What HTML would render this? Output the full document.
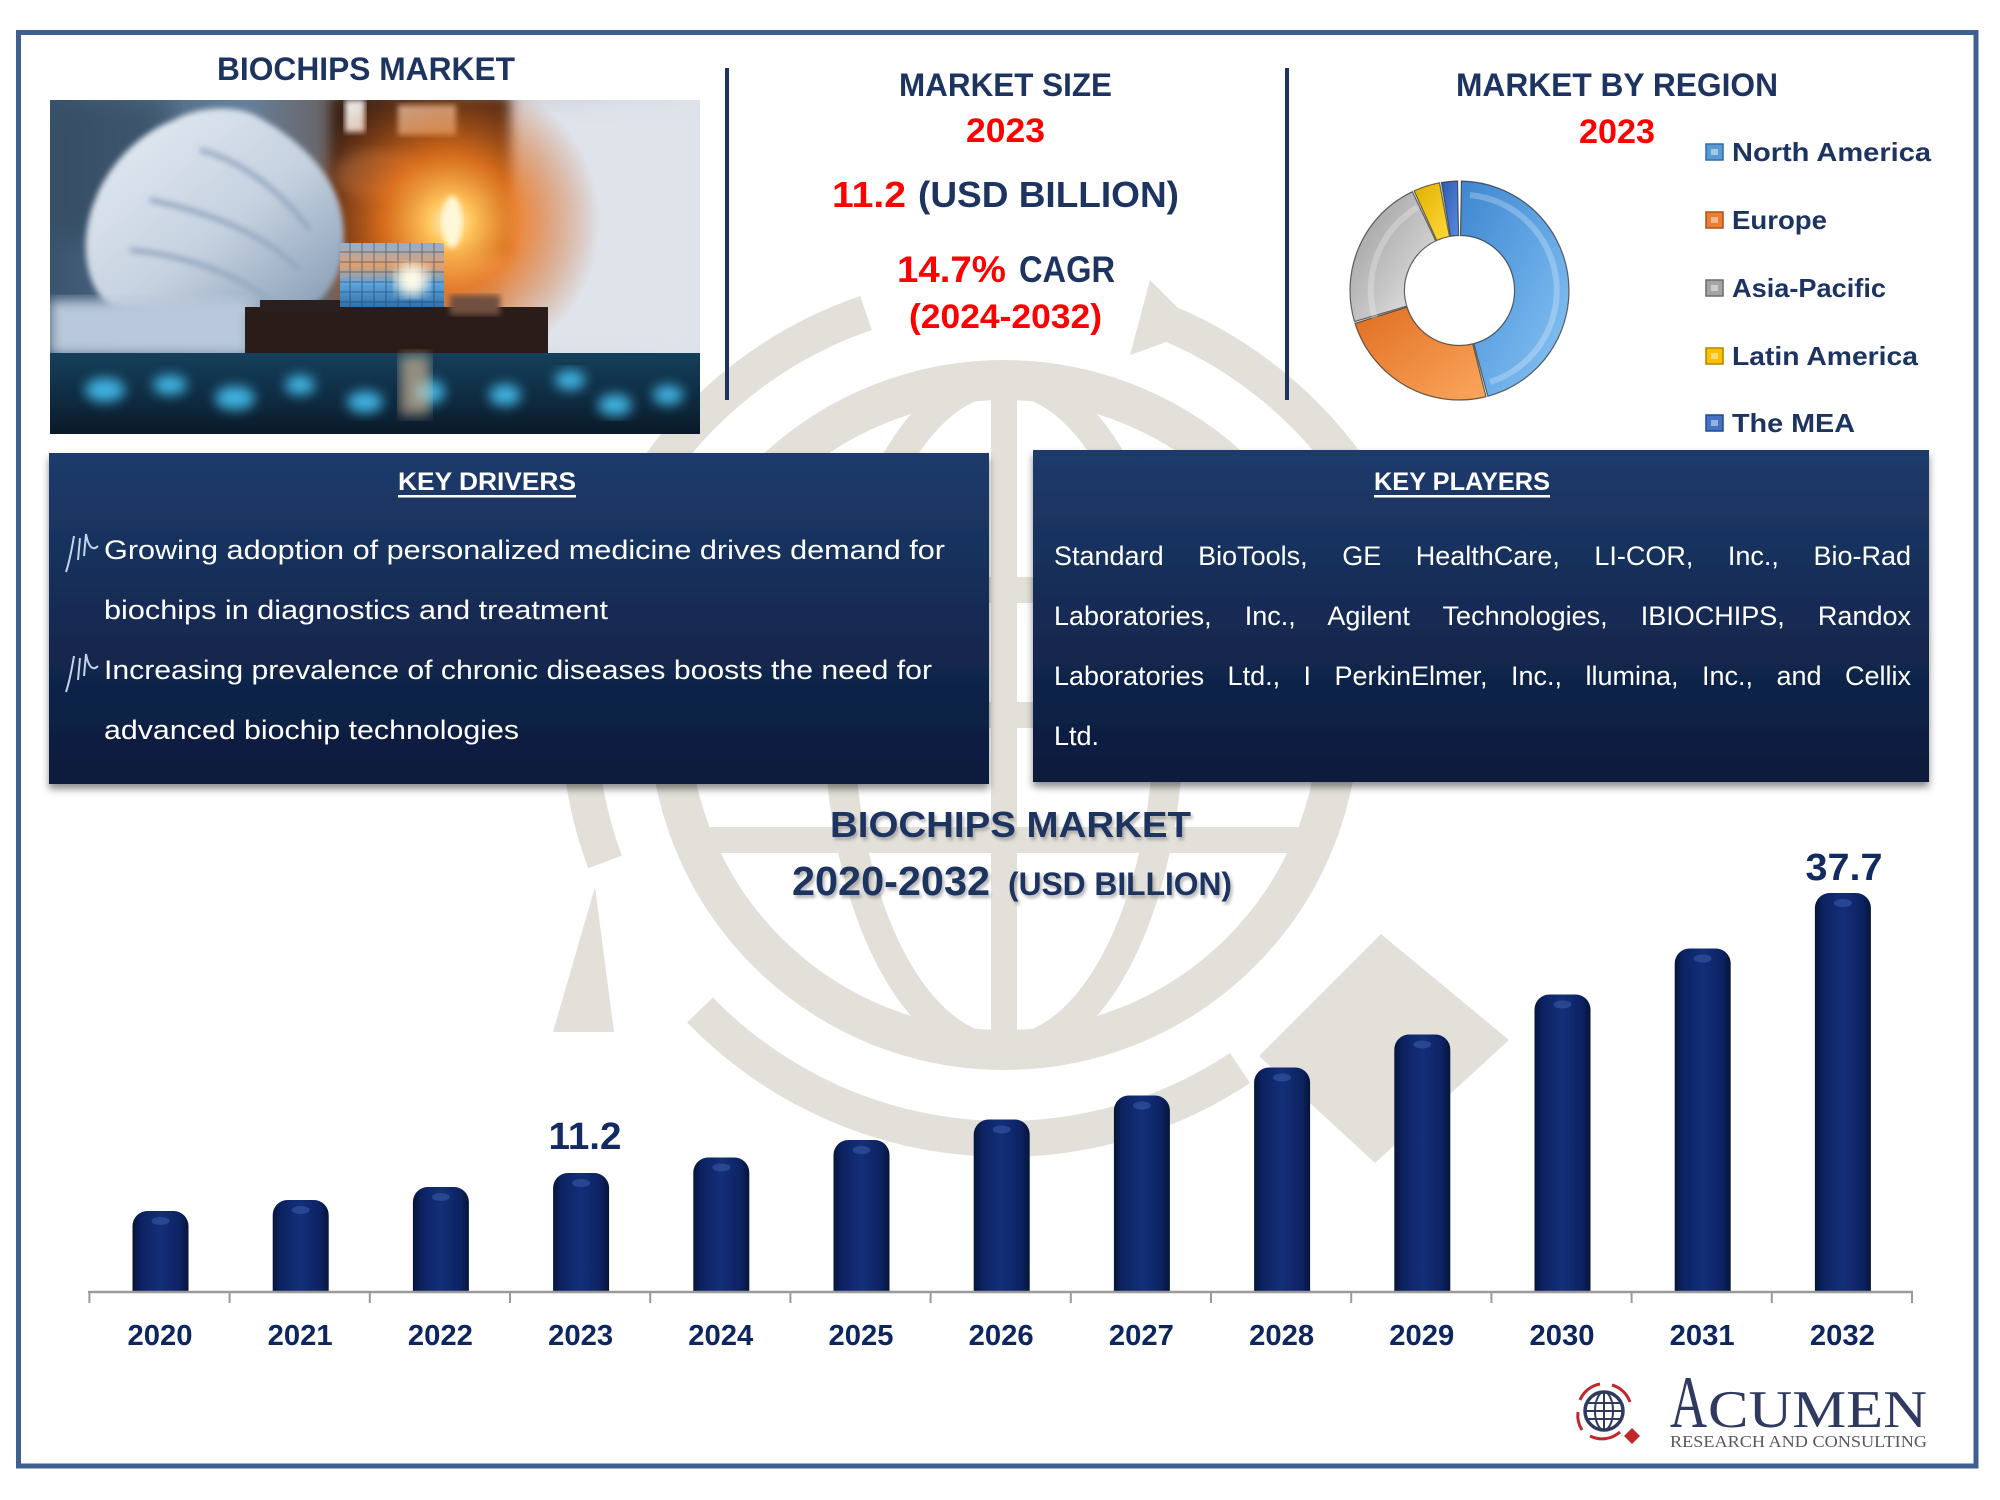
<!DOCTYPE html>
<html><head><meta charset="utf-8"><style>
html,body{margin:0;padding:0;background:#fff;}
#wrap{position:relative;width:2000px;height:1500px;overflow:hidden;background:#fff;font-family:"Liberation Sans",sans-serif;}
svg{position:absolute;left:0;top:0;}
.kp{position:absolute;left:1054px;width:857px;font-size:27px;line-height:27px;color:#fff;text-align:justify;text-align-last:justify;white-space:normal;font-family:"Liberation Sans",sans-serif;}
</style></head><body><div id="wrap">
<svg width="2000" height="1500" viewBox="0 0 2000 1500" xmlns="http://www.w3.org/2000/svg">
<defs>
<linearGradient id="box" x1="0" y1="0" x2="0" y2="1"><stop offset="0" stop-color="#1e3b6b"/><stop offset="1" stop-color="#0b1a3b"/></linearGradient>
<linearGradient id="bar" x1="0" y1="0" x2="1" y2="0"><stop offset="0" stop-color="#061538"/><stop offset="0.15" stop-color="#0c2262"/><stop offset="0.5" stop-color="#142f78"/><stop offset="0.85" stop-color="#0c2262"/><stop offset="1" stop-color="#061538"/></linearGradient>
<filter id="sh" x="-5%" y="-5%" width="110%" height="120%"><feDropShadow dx="0" dy="5" stdDeviation="4" flood-color="#000" flood-opacity="0.45"/></filter>
<filter id="b3"><feGaussianBlur stdDeviation="3"/></filter>
<filter id="b6"><feGaussianBlur stdDeviation="6"/></filter>
<filter id="b12"><feGaussianBlur stdDeviation="12"/></filter>
<filter id="tb"><feGaussianBlur stdDeviation="1.5"/></filter>
<linearGradient id="pbg" x1="0" y1="0" x2="1" y2="0"><stop offset="0" stop-color="#3a546e"/><stop offset="0.3" stop-color="#66809b"/><stop offset="0.5" stop-color="#6a5448"/><stop offset="0.72" stop-color="#c4c8d2"/><stop offset="1" stop-color="#dde2ea"/></linearGradient>
<linearGradient id="glv" x1="0" y1="0" x2="1" y2="1"><stop offset="0" stop-color="#e8eef5"/><stop offset="0.55" stop-color="#c6d2e0"/><stop offset="1" stop-color="#8399b3"/></linearGradient>
<radialGradient id="glow" cx="0.5" cy="0.5" r="0.5"><stop offset="0" stop-color="#fff6d0"/><stop offset="0.15" stop-color="#ffc45a"/><stop offset="0.45" stop-color="#f0781c" stop-opacity="0.85"/><stop offset="1" stop-color="#c05010" stop-opacity="0"/></radialGradient>
<linearGradient id="chip" x1="0" y1="0" x2="0" y2="1"><stop offset="0" stop-color="#8fb0d0"/><stop offset="0.3" stop-color="#e0a070"/><stop offset="0.55" stop-color="#5da4dc"/><stop offset="1" stop-color="#1d5c98"/></linearGradient>
<linearGradient id="bot" x1="0" y1="0" x2="0" y2="1"><stop offset="0" stop-color="#15405a"/><stop offset="0.5" stop-color="#0f2d44"/><stop offset="1" stop-color="#0a1a28"/></linearGradient>
<linearGradient id="gNA" x1="0" y1="0" x2="1" y2="1"><stop offset="0" stop-color="#3f86cf"/><stop offset="0.5" stop-color="#62a6e4"/><stop offset="1" stop-color="#8cc6f4"/></linearGradient>
<linearGradient id="gEU" x1="0" y1="0" x2="1" y2="1"><stop offset="0" stop-color="#e06e22"/><stop offset="1" stop-color="#fba75c"/></linearGradient>
<linearGradient id="gAP" x1="0" y1="0" x2="1" y2="1"><stop offset="0" stop-color="#9a9a9a"/><stop offset="0.6" stop-color="#c8c8c8"/><stop offset="1" stop-color="#f2f2f2"/></linearGradient>
<linearGradient id="gLA" x1="0" y1="0" x2="1" y2="1"><stop offset="0" stop-color="#e0b000"/><stop offset="1" stop-color="#ffd93a"/></linearGradient>
<linearGradient id="gME" x1="0" y1="0" x2="1" y2="1"><stop offset="0" stop-color="#2b5bb2"/><stop offset="1" stop-color="#5a8be0"/></linearGradient>
<clipPath id="pc"><rect x="50" y="100" width="650" height="334"/></clipPath>
</defs>

<!-- watermark -->
<g fill="none" stroke="#e2e0d8">
<circle cx="1004" cy="715" r="335" stroke-width="40"/>
<ellipse cx="1004" cy="715" rx="165" ry="335" stroke-width="30"/>
<line x1="1004" y1="380" x2="1004" y2="1050" stroke-width="26"/>
<line x1="693" y1="590" x2="1315" y2="590" stroke-width="26"/>
<line x1="670" y1="715" x2="1338" y2="715" stroke-width="26"/>
<line x1="693" y1="840" x2="1315" y2="840" stroke-width="26"/>
<path d="M 605 862 A 425 425 0 0 1 866 313" stroke-width="36"/>
<path d="M 1150 316 A 425 425 0 0 1 1425 770" stroke-width="36"/>
<path d="M 1240 1068 A 425 425 0 0 1 700 1010" stroke-width="36"/>
</g>
<g fill="#e2e0d8">
<polygon points="595,887 553,1032 614,1032"/>
<polygon points="1200,330 1150,280 1130,355"/>
<polygon points="1381,934 1509,1040 1375,1163 1259,1056"/>
</g>

<!-- outer border -->
<rect x="18.5" y="32.5" width="1957.5" height="1433.5" fill="none" stroke="#3e5f90" stroke-width="5"/>

<!-- photo -->
<g clip-path="url(#pc)">
<rect x="50" y="100" width="650" height="334" fill="url(#pbg)"/>
<rect x="50" y="100" width="120" height="140" fill="#33495f" opacity="0.6" filter="url(#b12)"/>
<rect x="500" y="100" width="200" height="260" fill="#dfe3ea" filter="url(#b12)"/>
<rect x="330" y="95" width="180" height="160" fill="#3a2418" filter="url(#b6)"/>
<rect x="398" y="105" width="58" height="30" fill="#c7b6a6" filter="url(#b3)"/>
<rect x="345" y="100" width="20" height="32" fill="#e8e4e0" filter="url(#b3)"/>
<ellipse cx="380" cy="175" rx="45" ry="25" fill="#6a4a38" filter="url(#b6)"/>
<circle cx="450" cy="222" r="150" fill="url(#glow)"/>
<path d="M174 120 C200 105 240 105 260 118 C300 140 335 175 342 215 C348 250 340 280 320 300 C280 318 170 318 112 307 C85 290 78 240 95 200 C110 160 145 130 174 120 Z" fill="url(#glv)" filter="url(#b3)"/>
<path d="M150 200 C200 210 260 230 300 270 M130 250 C180 255 230 270 270 300 M200 150 C240 160 280 190 310 230" stroke="#95a8c0" stroke-width="5" fill="none" filter="url(#b3)"/>
<rect x="50" y="300" width="200" height="55" fill="#b9c8da" filter="url(#b6)"/>
<rect x="340" y="243" width="104" height="74" fill="url(#chip)"/>
<g stroke="#1a3050" stroke-width="1" opacity="0.5">
<line x1="340" y1="252" x2="444" y2="252"/><line x1="340" y1="262" x2="444" y2="262"/><line x1="340" y1="272" x2="444" y2="272"/><line x1="340" y1="282" x2="444" y2="282"/><line x1="340" y1="292" x2="444" y2="292"/><line x1="340" y1="302" x2="444" y2="302"/>
<line x1="350" y1="243" x2="350" y2="317"/><line x1="362" y1="243" x2="362" y2="317"/><line x1="374" y1="243" x2="374" y2="317"/><line x1="386" y1="243" x2="386" y2="317"/><line x1="398" y1="243" x2="398" y2="317"/><line x1="410" y1="243" x2="410" y2="317"/><line x1="422" y1="243" x2="422" y2="317"/><line x1="434" y1="243" x2="434" y2="317"/>
</g>
<circle cx="412" cy="280" r="16" fill="#fffbe8" filter="url(#b6)"/>
<ellipse cx="452" cy="222" rx="10" ry="26" fill="#fff8d8" filter="url(#b3)"/>
<rect x="245" y="307" width="303" height="46" fill="#2a1c18"/>
<rect x="260" y="300" width="80" height="12" fill="#2a2020"/>
<rect x="450" y="295" width="50" height="20" fill="#705040" filter="url(#b3)"/>
<rect x="50" y="353" width="650" height="81" fill="url(#bot)"/>
<g fill="#45c0f0" filter="url(#b6)" opacity="0.9">
<ellipse cx="105" cy="390" rx="20" ry="12"/><ellipse cx="170" cy="385" rx="17" ry="10"/><ellipse cx="235" cy="398" rx="20" ry="12"/>
<ellipse cx="300" cy="385" rx="15" ry="10"/><ellipse cx="365" cy="402" rx="18" ry="11"/><ellipse cx="430" cy="392" rx="15" ry="12"/>
<ellipse cx="505" cy="395" rx="16" ry="11"/><ellipse cx="570" cy="380" rx="15" ry="10"/><ellipse cx="615" cy="405" rx="17" ry="11"/><ellipse cx="668" cy="395" rx="15" ry="10"/>
</g>
<rect x="400" y="355" width="30" height="60" fill="#e8c8a0" opacity="0.6" filter="url(#b6)"/>
</g>

<!-- dividers -->
<rect x="725" y="68" width="4" height="332" fill="#1d3461"/>
<rect x="1285" y="68" width="4" height="332" fill="#1d3461"/>

<!-- top texts -->
<g font-family="Liberation Sans, sans-serif" font-weight="bold">
<text x="217" y="80" font-size="32" fill="#1d3461" textLength="298" lengthAdjust="spacingAndGlyphs">BIOCHIPS MARKET</text>
<text x="899" y="96" font-size="32" fill="#1d3461" textLength="213" lengthAdjust="spacingAndGlyphs">MARKET SIZE</text>
<text x="966" y="142" font-size="34" fill="#ff0000" textLength="79" lengthAdjust="spacingAndGlyphs">2023</text>
<text x="832" y="207" font-size="36" fill="#ff0000" textLength="74" lengthAdjust="spacingAndGlyphs">11.2</text>
<text x="918" y="207" font-size="36" fill="#1d3461" textLength="261" lengthAdjust="spacingAndGlyphs">(USD BILLION)</text>
<text x="897" y="282" font-size="37" fill="#ff0000" textLength="109" lengthAdjust="spacingAndGlyphs">14.7%</text>
<text x="1019" y="282" font-size="37" fill="#1d3461" textLength="96" lengthAdjust="spacingAndGlyphs">CAGR</text>
<text x="909" y="328" font-size="34" fill="#ff0000" textLength="193" lengthAdjust="spacingAndGlyphs">(2024-2032)</text>
<text x="1456" y="96" font-size="32" fill="#1d3461" textLength="322" lengthAdjust="spacingAndGlyphs">MARKET BY REGION</text>
<text x="1579" y="143" font-size="34" fill="#ff0000" textLength="76" lengthAdjust="spacingAndGlyphs">2023</text>
</g>

<!-- donut -->
<g stroke="#2a2a2a" stroke-width="1.2" stroke-opacity="0.7">
<path d="M 1461.41 181.02 A 109.5 109.5 0 0 1 1487.84 396.27 L 1473.74 343.63 A 55 55 0 0 0 1460.46 235.51 Z" fill="url(#gNA)"/>
<path d="M 1485.99 396.75 A 109.5 109.5 0 0 1 1355.07 323.43 L 1407.05 307.04 A 55 55 0 0 0 1472.81 343.87 Z" fill="url(#gEU)"/>
<path d="M 1354.51 321.60 A 109.5 109.5 0 0 1 1412.36 191.67 L 1435.82 240.86 A 55 55 0 0 0 1406.76 306.12 Z" fill="url(#gAP)"/>
<path d="M 1414.09 190.86 A 109.5 109.5 0 0 1 1439.54 182.83 L 1449.48 236.42 A 55 55 0 0 0 1436.69 240.45 Z" fill="url(#gLA)"/>
<path d="M 1441.43 182.50 A 109.5 109.5 0 0 1 1457.59 181.02 L 1458.54 235.51 A 55 55 0 0 0 1450.42 236.25 Z" fill="url(#gME)"/>
</g>
<g fill="none" stroke="#ffffff" stroke-opacity="0.25" stroke-width="6">
<path d="M 1470 195 A 96 96 0 0 1 1490 382"/>
<path d="M 1375 318 A 96 96 0 0 1 1418 207"/>
</g>

<!-- legend -->
<g stroke-width="1.5">
<rect x="1706" y="144" width="17" height="16" fill="#5b9bd5" stroke="#2e6aa8"/>
<rect x="1706" y="212" width="17" height="16" fill="#ed7d31" stroke="#a9531a"/>
<rect x="1706" y="280" width="17" height="16" fill="#a5a5a5" stroke="#6b6b6b"/>
<rect x="1706" y="348" width="17" height="16" fill="#ffc000" stroke="#b08400"/>
<rect x="1706" y="415" width="17" height="16" fill="#4472c4" stroke="#24488c"/>
</g>
<g fill="#ffffff" opacity="0.45">
<rect x="1711" y="149" width="7" height="6"/><rect x="1711" y="217" width="7" height="6"/><rect x="1711" y="285" width="7" height="6"/><rect x="1711" y="353" width="7" height="6"/><rect x="1711" y="420" width="7" height="6"/>
</g>
<g font-family="Liberation Sans, sans-serif" font-weight="bold" font-size="26" fill="#1d3461">
<text x="1732" y="161" textLength="199" lengthAdjust="spacingAndGlyphs">North America</text>
<text x="1732" y="229" textLength="95" lengthAdjust="spacingAndGlyphs">Europe</text>
<text x="1732" y="297" textLength="154" lengthAdjust="spacingAndGlyphs">Asia-Pacific</text>
<text x="1732" y="365" textLength="186" lengthAdjust="spacingAndGlyphs">Latin America</text>
<text x="1732" y="432" textLength="123" lengthAdjust="spacingAndGlyphs">The MEA</text>
</g>

<!-- boxes -->
<rect x="49" y="453" width="940" height="331" fill="url(#box)" filter="url(#sh)"/>
<rect x="1033" y="450" width="896" height="332" fill="url(#box)" filter="url(#sh)"/>
<g font-family="Liberation Sans, sans-serif" fill="#ffffff">
<text x="398" y="490" font-size="25" font-weight="bold" textLength="178" lengthAdjust="spacingAndGlyphs">KEY DRIVERS</text>
<rect x="398" y="495" width="178" height="2.5"/>
<text x="1374" y="490" font-size="25" font-weight="bold" textLength="176" lengthAdjust="spacingAndGlyphs">KEY PLAYERS</text>
<rect x="1374" y="495" width="176" height="2.5"/>
<text x="104" y="559" font-size="27" textLength="841" lengthAdjust="spacingAndGlyphs">Growing adoption of personalized medicine drives demand for</text>
<text x="104" y="619" font-size="27" textLength="504" lengthAdjust="spacingAndGlyphs">biochips in diagnostics and treatment</text>
<text x="104" y="679" font-size="27" textLength="828" lengthAdjust="spacingAndGlyphs">Increasing prevalence of chronic diseases boosts the need for</text>
<text x="104" y="739" font-size="27" textLength="415" lengthAdjust="spacingAndGlyphs">advanced biochip technologies</text>
<text x="1054" y="745" font-size="27">Ltd.</text>
</g>
<g fill="none" stroke="#c4d4ec" stroke-width="2">
<path d="M66 572 C70 560 72 548 74 536 M78 560 L80 538 M84 556 L86 534 C88 545 92 552 98 546"/>
<path d="M66 692 C70 680 72 668 74 656 M78 680 L80 658 M84 676 L86 654 C88 665 92 672 98 666"/>
</g>

<!-- chart title -->
<g font-family="Liberation Sans, sans-serif" font-weight="bold">
<g fill="#7a7a7a" opacity="0.55" filter="url(#tb)" transform="translate(2,3)">
<text x="830" y="837" font-size="36" textLength="361" lengthAdjust="spacingAndGlyphs">BIOCHIPS MARKET</text>
<text x="792" y="895" font-size="41" textLength="198" lengthAdjust="spacingAndGlyphs">2020-2032</text>
<text x="1008" y="895" font-size="32" textLength="224" lengthAdjust="spacingAndGlyphs">(USD BILLION)</text>
</g>
<g fill="#1d3461">
<text x="830" y="837" font-size="36" textLength="361" lengthAdjust="spacingAndGlyphs">BIOCHIPS MARKET</text>
<text x="792" y="895" font-size="41" textLength="198" lengthAdjust="spacingAndGlyphs">2020-2032</text>
<text x="1008" y="895" font-size="32" textLength="224" lengthAdjust="spacingAndGlyphs">(USD BILLION)</text>
</g>
</g>

<!-- bars -->
<g fill="url(#bar)">
<path d="M132.5 1292 V1226 A15 15 0 0 1 147.5 1211 H173.5 A15 15 0 0 1 188.5 1226 V1292 Z"/>
<path d="M272.7 1292 V1215 A15 15 0 0 1 287.7 1200 H313.7 A15 15 0 0 1 328.7 1215 V1292 Z"/>
<path d="M412.9 1292 V1202 A15 15 0 0 1 427.9 1187 H453.9 A15 15 0 0 1 468.9 1202 V1292 Z"/>
<path d="M553.1 1292 V1188 A15 15 0 0 1 568.1 1173 H594.1 A15 15 0 0 1 609.1 1188 V1292 Z"/>
<path d="M693.3 1292 V1172.5 A15 15 0 0 1 708.3 1157.5 H734.3 A15 15 0 0 1 749.3 1172.5 V1292 Z"/>
<path d="M833.5 1292 V1155 A15 15 0 0 1 848.5 1140 H874.5 A15 15 0 0 1 889.5 1155 V1292 Z"/>
<path d="M973.7 1292 V1134.5 A15 15 0 0 1 988.7 1119.5 H1014.7 A15 15 0 0 1 1029.7 1134.5 V1292 Z"/>
<path d="M1113.9 1292 V1110.5 A15 15 0 0 1 1128.9 1095.5 H1154.9 A15 15 0 0 1 1169.9 1110.5 V1292 Z"/>
<path d="M1254.1 1292 V1082.5 A15 15 0 0 1 1269.1 1067.5 H1295.1 A15 15 0 0 1 1310.1 1082.5 V1292 Z"/>
<path d="M1394.3 1292 V1049.5 A15 15 0 0 1 1409.3 1034.5 H1435.3 A15 15 0 0 1 1450.3 1049.5 V1292 Z"/>
<path d="M1534.5 1292 V1009.5 A15 15 0 0 1 1549.5 994.5 H1575.5 A15 15 0 0 1 1590.5 1009.5 V1292 Z"/>
<path d="M1674.7 1292 V963.5 A15 15 0 0 1 1689.7 948.5 H1715.7 A15 15 0 0 1 1730.7 963.5 V1292 Z"/>
<path d="M1814.9 1292 V908 A15 15 0 0 1 1829.9 893 H1855.9 A15 15 0 0 1 1870.9 908 V1292 Z"/>
</g>
<g fill="#3d5fb0" opacity="0.5">
<ellipse cx="160.5" cy="1221" rx="9" ry="4"/><ellipse cx="300.7" cy="1210" rx="9" ry="4"/><ellipse cx="440.9" cy="1197" rx="9" ry="4"/>
<ellipse cx="581.1" cy="1183" rx="9" ry="4"/><ellipse cx="721.3" cy="1167.5" rx="9" ry="4"/><ellipse cx="861.5" cy="1150" rx="9" ry="4"/>
<ellipse cx="1001.7" cy="1129.5" rx="9" ry="4"/><ellipse cx="1141.9" cy="1105.5" rx="9" ry="4"/><ellipse cx="1282.1" cy="1077.5" rx="9" ry="4"/>
<ellipse cx="1422.3" cy="1044.5" rx="9" ry="4"/><ellipse cx="1562.5" cy="1004.5" rx="9" ry="4"/><ellipse cx="1702.7" cy="958.5" rx="9" ry="4"/><ellipse cx="1842.9" cy="903" rx="9" ry="4"/>
</g>

<!-- axis -->
<line x1="88" y1="1292" x2="1913" y2="1292" stroke="#9a9a9a" stroke-width="2.5"/>
<g stroke="#9a9a9a" stroke-width="2">
<line x1="89.4" y1="1292" x2="89.4" y2="1303"/><line x1="229.6" y1="1292" x2="229.6" y2="1303"/><line x1="369.8" y1="1292" x2="369.8" y2="1303"/>
<line x1="510" y1="1292" x2="510" y2="1303"/><line x1="650.2" y1="1292" x2="650.2" y2="1303"/><line x1="790.4" y1="1292" x2="790.4" y2="1303"/>
<line x1="930.6" y1="1292" x2="930.6" y2="1303"/><line x1="1070.8" y1="1292" x2="1070.8" y2="1303"/><line x1="1211" y1="1292" x2="1211" y2="1303"/>
<line x1="1351.2" y1="1292" x2="1351.2" y2="1303"/><line x1="1491.4" y1="1292" x2="1491.4" y2="1303"/><line x1="1631.6" y1="1292" x2="1631.6" y2="1303"/>
<line x1="1771.8" y1="1292" x2="1771.8" y2="1303"/><line x1="1912" y1="1292" x2="1912" y2="1303"/>
</g>
<g font-family="Liberation Sans, sans-serif" font-weight="bold" font-size="29" fill="#0d2660" text-anchor="middle">
<text x="160" y="1345" textLength="65" lengthAdjust="spacingAndGlyphs">2020</text>
<text x="300.2" y="1345" textLength="65" lengthAdjust="spacingAndGlyphs">2021</text>
<text x="440.4" y="1345" textLength="65" lengthAdjust="spacingAndGlyphs">2022</text>
<text x="580.6" y="1345" textLength="65" lengthAdjust="spacingAndGlyphs">2023</text>
<text x="720.8" y="1345" textLength="65" lengthAdjust="spacingAndGlyphs">2024</text>
<text x="861" y="1345" textLength="65" lengthAdjust="spacingAndGlyphs">2025</text>
<text x="1001.2" y="1345" textLength="65" lengthAdjust="spacingAndGlyphs">2026</text>
<text x="1141.4" y="1345" textLength="65" lengthAdjust="spacingAndGlyphs">2027</text>
<text x="1281.6" y="1345" textLength="65" lengthAdjust="spacingAndGlyphs">2028</text>
<text x="1421.8" y="1345" textLength="65" lengthAdjust="spacingAndGlyphs">2029</text>
<text x="1562" y="1345" textLength="65" lengthAdjust="spacingAndGlyphs">2030</text>
<text x="1702.2" y="1345" textLength="65" lengthAdjust="spacingAndGlyphs">2031</text>
<text x="1842.4" y="1345" textLength="65" lengthAdjust="spacingAndGlyphs">2032</text>
<text x="585" y="1149" font-size="38" fill="#142a63" textLength="73" lengthAdjust="spacingAndGlyphs">11.2</text>
<text x="1844" y="880" font-size="38" fill="#142a63" textLength="77" lengthAdjust="spacingAndGlyphs">37.7</text>
</g>

<!-- logo -->
<g fill="none" stroke="#c0282d" stroke-width="3">
<path d="M 1580 1400 A 27 27 0 0 1 1600 1384"/>
<path d="M 1612 1385 A 27 27 0 0 1 1630 1402"/>
<path d="M 1620 1432 A 27 27 0 0 1 1590 1436"/>
<path d="M 1582 1430 A 27 27 0 0 1 1578 1412"/>
</g>
<g fill="none" stroke="#2e3a5f">
<circle cx="1604" cy="1411" r="19" stroke-width="3.5" fill="#fff"/>
<ellipse cx="1604" cy="1411" rx="9" ry="19" stroke-width="2"/>
<line x1="1604" y1="1392" x2="1604" y2="1430" stroke-width="2"/>
<line x1="1587" y1="1403" x2="1621" y2="1403" stroke-width="2"/>
<line x1="1585" y1="1411" x2="1623" y2="1411" stroke-width="2"/>
<line x1="1587" y1="1419" x2="1621" y2="1419" stroke-width="2"/>
</g>
<polygon points="1632,1428 1640,1436 1632,1444 1624,1436" fill="#c0282d"/>
<g font-family="Liberation Serif, serif" fill="#2e3a5f">
<text x="1670" y="1427" font-size="74" textLength="37" lengthAdjust="spacingAndGlyphs">A</text>
<text x="1708" y="1427" font-size="53" textLength="219" lengthAdjust="spacingAndGlyphs">CUMEN</text>
<text x="1670" y="1447" font-size="17" fill="#5a5a5a" textLength="257" lengthAdjust="spacingAndGlyphs">RESEARCH AND CONSULTING</text>
</g>
</svg>
<div class="kp" style="top:543px;">Standard BioTools, GE HealthCare, LI-COR, Inc., Bio-Rad</div>
<div class="kp" style="top:603px;">Laboratories, Inc., Agilent Technologies, IBIOCHIPS, Randox</div>
<div class="kp" style="top:663px;">Laboratories Ltd., I PerkinElmer, Inc., llumina, Inc., and Cellix</div>
</div></body></html>
